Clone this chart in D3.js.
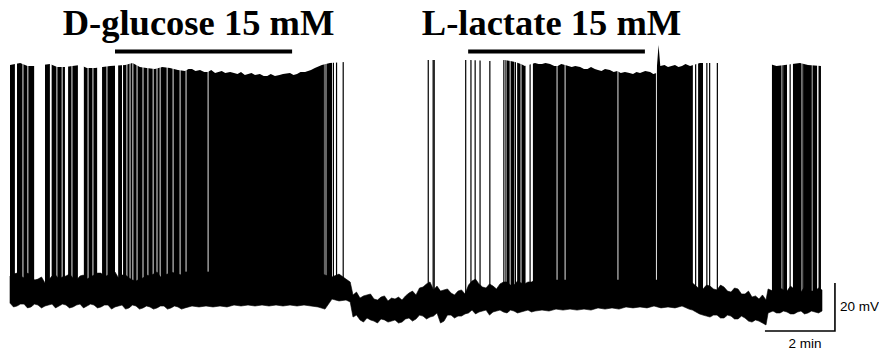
<!DOCTYPE html>
<html>
<head>
<meta charset="utf-8">
<script src="https://cdn.jsdelivr.net/npm/d3@7"></script>
<style>
  html, body { margin: 0; padding: 0; background: #fff; }
</style>
</head>
<body>
<div id="chart"></div>
<script>
// whole-cell recording: time in min, membrane potential in mV

// noise band of the resting trace: [t, lower mV, upper mV]
const baseline = [
  [0.0, -61.3, -50.0], [0.1, -62.9, -49.2], [0.2, -62.5, -48.8], [0.3, -61.7, -50.0],
  [0.4, -61.7, -50.8], [0.5, -63.3, -48.8], [0.6, -62.9, -49.6], [0.7, -61.7, -51.7],
  [0.8, -62.1, -51.3], [0.9, -63.3, -50.4], [1.0, -62.5, -52.9], [1.1, -62.1, -51.7],
  [1.2, -61.7, -50.0], [1.3, -63.3, -49.6], [1.4, -62.5, -51.3], [1.5, -61.7, -50.4],
  [1.6, -62.1, -50.0], [1.7, -63.3, -49.2], [1.8, -62.9, -50.8], [1.9, -62.1, -51.7],
  [2.0, -61.7, -50.0], [2.1, -63.3, -49.6], [2.2, -62.5, -51.3], [2.3, -61.7, -50.4],
  [2.4, -62.1, -49.6], [2.5, -63.3, -48.8], [2.6, -62.9, -48.8], [2.7, -62.1, -50.4],
  [2.8, -62.1, -49.6], [2.9, -63.8, -49.2], [3.0, -62.9, -48.3], [3.1, -62.5, -50.8],
  [3.2, -62.1, -49.6], [3.3, -63.8, -49.6], [3.4, -63.3, -50.8], [3.5, -62.1, -51.7],
  [3.6, -62.5, -52.1], [3.7, -63.8, -51.3], [3.8, -63.3, -50.8], [3.9, -62.5, -49.6],
  [4.0, -62.9, -50.0], [4.1, -63.8, -49.2], [4.2, -63.3, -48.3], [4.3, -62.5, -50.4],
  [4.4, -62.5, -49.6], [4.5, -63.8, -49.2], [4.6, -63.3, -48.3], [4.7, -62.5, -48.8],
  [4.8, -62.9, -49.2], [4.9, -63.8, -49.6], [5.0, -63.3, -48.3], [5.2, -62.5, -48.3],
  [5.4, -62.9, -48.3], [5.6, -62.5, -48.3], [5.8, -62.9, -48.3], [6.0, -62.5, -48.3],
  [6.2, -62.9, -48.3], [6.4, -62.1, -48.3], [6.6, -62.5, -48.3], [6.8, -62.1, -48.3],
  [7.0, -62.5, -48.3], [7.2, -62.1, -48.3], [7.4, -62.5, -48.3], [7.6, -62.1, -48.3],
  [7.8, -62.5, -48.3], [8.0, -62.1, -48.3], [8.2, -62.5, -48.3], [8.4, -62.1, -48.3],
  [8.6, -62.5, -48.3], [8.8, -62.9, -48.3], [9.0, -63.8, -49.6], [9.2, -59.6, -50.4],
  [9.4, -60.4, -49.2], [9.6, -60.0, -51.3], [9.72, -60.8, -52.5], [9.8, -67.1, -57.9],
  [9.9, -66.3, -56.7], [10.0, -68.3, -59.2], [10.1, -69.2, -58.3], [10.2, -67.5, -57.9],
  [10.3, -68.3, -57.5], [10.4, -68.8, -59.6], [10.5, -69.6, -60.0], [10.6, -67.9, -58.8],
  [10.7, -68.3, -58.3], [10.8, -69.2, -60.4], [10.9, -68.8, -59.2], [11.0, -68.3, -59.6],
  [11.1, -69.6, -58.8], [11.2, -69.2, -60.0], [11.3, -67.9, -58.3], [11.4, -67.5, -57.1],
  [11.5, -68.8, -56.3], [11.6, -67.9, -57.9], [11.7, -66.3, -55.0], [11.8, -66.7, -54.6],
  [11.9, -67.9, -53.3], [12.0, -67.1, -52.5], [12.1, -66.7, -55.8], [12.2, -65.4, -54.2],
  [12.3, -69.6, -56.3], [12.4, -68.8, -55.8], [12.5, -66.3, -55.4], [12.6, -66.3, -57.1],
  [12.7, -67.5, -57.9], [12.8, -66.7, -56.3], [12.9, -66.7, -55.8], [13.0, -65.8, -57.5],
  [13.1, -65.4, -53.8], [13.2, -64.2, -52.1], [13.3, -65.8, -51.3], [13.4, -65.0, -53.3],
  [13.5, -64.6, -54.6], [13.6, -64.2, -55.0], [13.7, -66.3, -53.3], [13.8, -65.0, -54.2],
  [13.9, -64.6, -55.4], [14.0, -64.2, -53.3], [14.1, -65.0, -52.5], [14.2, -65.4, -52.5],
  [14.3, -64.2, -53.8], [14.4, -64.6, -53.8], [14.5, -65.4, -52.1], [14.6, -65.0, -52.9],
  [14.7, -64.6, -53.3], [14.8, -64.2, -52.5], [14.9, -65.0, -52.5], [15.0, -64.6, -51.7],
  [15.2, -64.2, -51.7], [15.4, -64.6, -51.7], [15.6, -63.8, -51.7], [15.8, -64.2, -51.7],
  [16.0, -63.8, -51.7], [16.2, -64.2, -51.7], [16.4, -63.8, -51.7], [16.6, -64.2, -51.7],
  [16.8, -63.3, -51.7], [17.0, -63.8, -51.7], [17.2, -63.3, -51.7], [17.4, -63.8, -51.7],
  [17.6, -62.9, -51.7], [17.8, -63.3, -51.7], [18.0, -62.9, -51.7], [18.2, -63.3, -51.7],
  [18.4, -62.5, -51.7], [18.6, -63.3, -51.7], [18.8, -62.9, -51.7], [19.0, -63.3, -51.7],
  [19.2, -62.5, -51.7], [19.4, -63.8, -53.3], [19.5, -64.2, -52.9], [19.6, -65.0, -54.2],
  [19.7, -65.8, -55.4], [19.8, -66.3, -55.4], [19.9, -66.7, -53.8], [20.0, -67.1, -54.2],
  [20.1, -66.3, -55.4], [20.2, -66.3, -55.8], [20.3, -67.5, -53.8], [20.4, -67.5, -54.6],
  [20.5, -66.3, -56.3], [20.6, -66.7, -56.7], [20.7, -67.9, -55.0], [20.8, -67.9, -55.4],
  [20.9, -66.7, -57.5], [21.0, -67.5, -57.5], [21.1, -68.8, -56.3], [21.2, -69.2, -58.8],
  [21.3, -68.3, -58.3], [21.4, -68.8, -59.6], [21.5, -69.6, -57.9], [21.6, -70.4, -60.0],
  [21.66, -65.4, -55.4], [21.8, -64.6, -56.3], [21.9, -65.4, -54.6], [22.0, -65.4, -55.0],
  [22.1, -64.6, -55.8], [22.2, -65.0, -56.3], [22.3, -65.8, -54.2], [22.4, -65.8, -55.4],
  [22.5, -65.0, -55.8], [22.6, -64.6, -56.7], [22.7, -65.8, -54.6], [22.8, -65.4, -55.4],
  [22.9, -64.6, -56.3], [23.0, -65.0, -56.3], [23.1, -65.4, -55.0], [23.2, -64.6, -55.8]
];

// spike overshoot along the trace: [t, mV]
const peakTops = [
  [0.00, 37.9], [0.29, 38.8], [0.5, 37.5], [0.71, 37.5], [1.14, 38.3], [1.35, 37.1],
  [1.57, 37.1], [2.00, 37.9], [2.2, 36.7], [2.43, 36.7], [2.86, 37.5], [3.29, 37.9],
  [3.5, 38.8], [3.71, 37.1], [3.9, 36.7], [4.14, 36.3], [4.35, 37.1], [4.57, 36.7],
  [4.8, 35.8], [5.00, 35.4], [5.1, 36.3], [5.2, 36.3], [5.3, 35.4], [5.43, 35.8],
  [5.55, 35.0], [5.65, 35.0], [5.75, 35.8], [5.86, 34.6], [6.05, 35.4], [6.15, 34.6],
  [6.29, 35.0], [6.4, 34.6], [6.5, 34.2], [6.6, 35.0], [6.71, 33.8], [6.9, 34.6],
  [7.0, 33.8], [7.14, 34.2], [7.25, 33.3], [7.35, 33.3], [7.45, 34.2], [7.57, 33.3],
  [7.7, 33.8], [7.8, 34.2], [8.00, 34.6], [8.1, 33.8], [8.2, 34.2], [8.3, 35.0],
  [8.43, 35.0], [8.6, 35.8], [8.71, 36.7], [8.91, 37.9], [9.14, 38.8], [9.57, 39.2],
  [11.94, 40.0], [12.14, 40.0], [13.14, 40.0], [13.71, 39.6], [14.14, 40.0], [14.43, 39.2],
  [14.6, 38.3], [14.71, 37.5], [15.0, 38.8], [15.1, 38.3], [15.2, 38.3], [15.3, 38.8],
  [15.43, 38.3], [15.55, 37.5], [15.65, 37.5], [15.75, 38.3], [15.86, 37.9], [16.05, 37.1],
  [16.15, 37.5], [16.29, 37.1], [16.4, 36.3], [16.5, 36.3], [16.6, 37.1], [16.71, 36.3],
  [16.8, 35.8], [16.9, 35.4], [17.0, 36.3], [17.14, 35.8], [17.25, 35.0], [17.35, 35.4],
  [17.45, 34.6], [17.57, 35.0], [17.7, 34.6], [17.8, 34.2], [17.9, 35.0], [18.0, 34.6],
  [18.15, 35.4], [18.29, 35.0], [18.38, 34.2], [18.47, 34.6], [18.53, 46.3], [18.58, 37.5],
  [18.7, 37.9], [18.8, 37.1], [18.9, 37.5], [19.0, 37.9], [19.1, 37.1], [19.2, 37.5],
  [19.3, 38.3], [19.43, 37.5], [19.71, 38.8], [20.23, 38.8], [21.71, 38.3], [21.9, 37.5],
  [22.14, 37.9], [22.35, 38.3], [22.57, 38.8], [22.8, 37.9], [23.2, 37.5]
];

// stretches where spikes fuse into a solid block: [t start, t end]
const burstBlocks = [
  [0.00, 0.14], [0.20, 0.69], [1.00, 1.14], [1.19, 1.57], [1.66, 1.94], [2.11, 2.49],
  [2.63, 3.00], [3.09, 3.20], [3.23, 8.97], [9.04, 9.20], [14.20, 14.41], [14.49, 14.73],
  [14.94, 19.51], [19.66, 19.80], [21.77, 22.03], [22.09, 22.20], [22.37, 22.60],
  [22.66, 22.89], [22.94, 23.06], [23.10, 23.17]
];

// single action potentials
const spikeTimes = [
  9.0, 9.24, 9.33, 9.52, 11.95, 12.09, 12.12, 13.02, 13.17, 13.29, 13.43, 13.71,
  14.11, 14.17, 14.44, 14.86, 19.59, 19.91, 19.99, 20.21, 22.06, 22.29, 22.63, 22.91
];

// short pauses inside the blocks
const gapTimes = [
  0.37, 0.51, 1.34, 1.49, 1.77, 2.23, 2.37, 2.77, 3.34, 3.43, 3.51, 3.63, 3.80, 3.94,
  4.09, 4.20, 4.29, 4.49, 4.66, 4.86, 5.03, 5.66, 14.29, 14.60, 15.63, 15.86, 17.37, 18.47
];

const applications = [
  {label: "D-glucose 15 mM", start: 3.0, end: 8.06},
  {label: "L-lactate 15 mM", start: 13.09, end: 18.14}
];

const scaleBar = {min: 2, mV: 20, t: 23.57, v: -72.9};

const width = 879, height = 354;

const x = d3.scaleLinear().domain([0, 23.2]).range([10, 822]);
const y = d3.scaleLinear().domain([-70, 40]).range([324, 60]);

const svg = d3.select("#chart").append("svg")
    .attr("width", width)
    .attr("height", height);

// clip the spike envelope to where spikes happen
const clip = svg.append("defs").append("clipPath").attr("id", "spikes");
clip.selectAll("rect.block")
  .data(burstBlocks)
  .join("rect")
    .attr("class", "block")
    .attr("x", d => x(d[0]))
    .attr("width", d => x(d[1]) - x(d[0]))
    .attr("y", 0)
    .attr("height", height);
clip.selectAll("rect.spike")
  .data(spikeTimes)
  .join("rect")
    .attr("class", "spike")
    .attr("x", d => x(d) - 0.6)
    .attr("width", 1.2)
    .attr("y", 0)
    .attr("height", height);

svg.append("path")
    .datum(peakTops)
    .attr("clip-path", "url(#spikes)")
    .attr("fill", "#000")
    .attr("d", d3.area()
      .x(d => x(d[0]))
      .y0(y(-58))
      .y1(d => y(d[1])));

svg.append("g")
  .selectAll("line")
  .data(gapTimes)
  .join("line")
    .attr("x1", d => x(d))
    .attr("x2", d => x(d))
    .attr("y1", y(41))
    .attr("y2", y(-58))
    .attr("stroke", "#fff")
    .attr("stroke-width", 0.9);

// resting noise
svg.append("path")
    .datum(baseline)
    .attr("fill", "#000")
    .attr("stroke", "#000")
    .attr("stroke-width", 0.6)
    .attr("d", d3.area()
      .x(d => x(d[0]))
      .y0(d => y(d[1]))
      .y1(d => y(d[2])));

// scale bar
const sx1 = x(scaleBar.t), sx0 = x(scaleBar.t - scaleBar.min);
const sy0 = y(scaleBar.v), sy1 = y(scaleBar.v + scaleBar.mV);
svg.append("path")
    .attr("fill", "none")
    .attr("stroke", "#000")
    .attr("stroke-width", 1.6)
    .attr("d", `M${sx0},${sy0}H${sx1}V${sy1}`);

svg.append("text")
    .attr("x", sx1 + 5)
    .attr("y", (sy0 + sy1) / 2 + 4)
    .style("font", "13.5px 'Liberation Sans', Arial, sans-serif")
    .text(scaleBar.mV + " mV");

svg.append("text")
    .attr("x", (sx0 + sx1) / 2 + 5)
    .attr("y", sy0 + 17)
    .attr("text-anchor", "middle")
    .style("font", "13.5px 'Liberation Sans', Arial, sans-serif")
    .text(scaleBar.min + " min");

// application bars + labels
const app = svg.append("g").selectAll("g")
  .data(applications)
  .join("g");

app.append("line")
    .attr("x1", d => x(d.start))
    .attr("x2", d => x(d.end))
    .attr("y1", 51.5)
    .attr("y2", 51.5)
    .attr("stroke", "#000")
    .attr("stroke-width", 4);

app.append("text")
    .attr("x", d => (x(d.start) + x(d.end)) / 2 - 5)
    .attr("y", 35)
    .attr("text-anchor", "middle")
    .style("font", "bold 36.5px 'Liberation Serif', 'Times New Roman', serif")
    .text(d => d.label);
</script>
</body>
</html>
